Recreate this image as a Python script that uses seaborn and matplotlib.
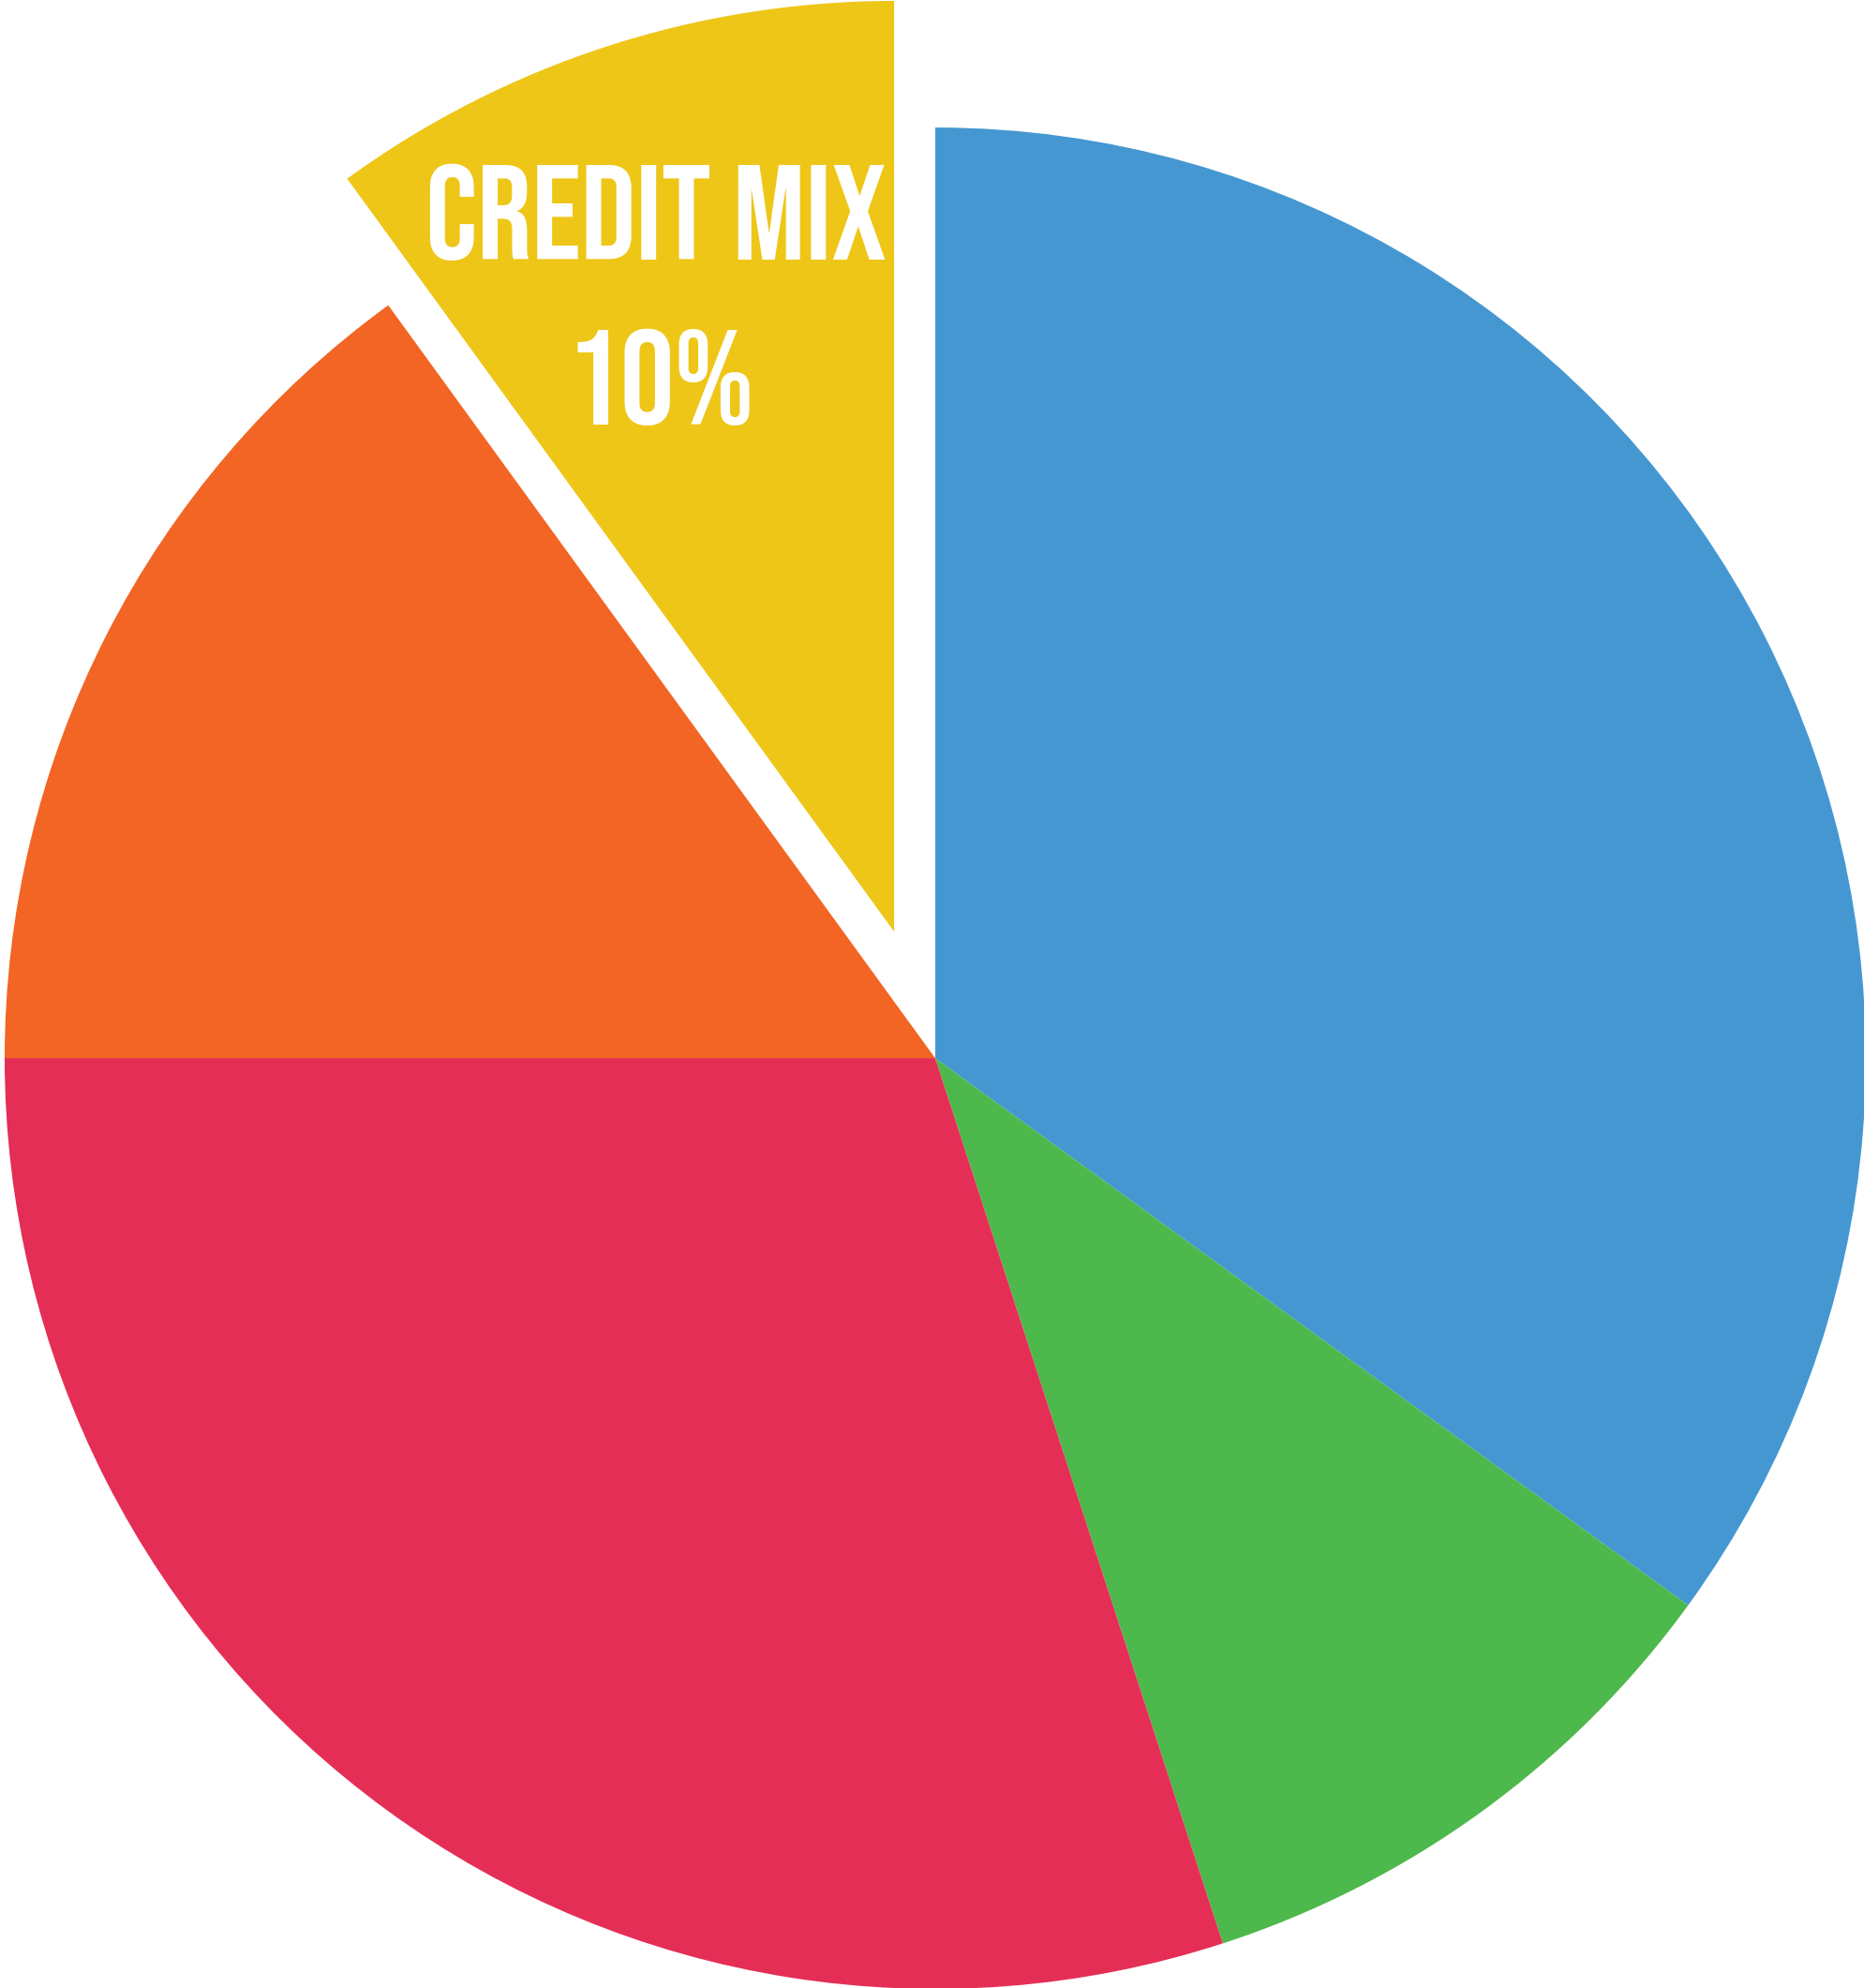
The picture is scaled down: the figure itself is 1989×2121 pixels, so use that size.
import matplotlib.pyplot as plt
import seaborn as sns

# Data: FICO score breakdown (only credit mix is labelled in the original)
categories = ["Payment History", "New Credit", "Amounts Owed", "Length of History", "Credit Mix"]
shares = [35, 10, 30, 15, 10]
colors = ["#4597D2", "#4DB84B", "#E52E56", "#F26524", "#EEC618"]
explode = [0, 0, 0, 0, 0.143]
label_title = "CREDIT MIX"
label_value = "10%"

sns.set_theme(style="white")
plt.rcParams['font.family'] = ['Bebas Neue', 'DejaVu Sans']

fig = plt.figure(figsize=(19.89, 21.21), dpi=100)
ax = fig.add_axes([0, 0, 1, 1])

ax.pie(shares, colors=colors, explode=explode, startangle=90, counterclock=False,
       radius=1, wedgeprops=dict(linewidth=0))

# pie is cropped by the canvas edges
ax.set_xlim(-1.005, 0.998)
ax.set_ylim(-0.999, 1.137)
ax.set_aspect('auto')
ax.axis('off')

ax.text(-0.300, 0.858, label_title, color="white", fontsize=104,
        ha="center", va="baseline")
ax.text(-0.295, 0.681, label_value, color="white", fontsize=104,
        ha="center", va="baseline")

fig.savefig("out.png", dpi=100)
